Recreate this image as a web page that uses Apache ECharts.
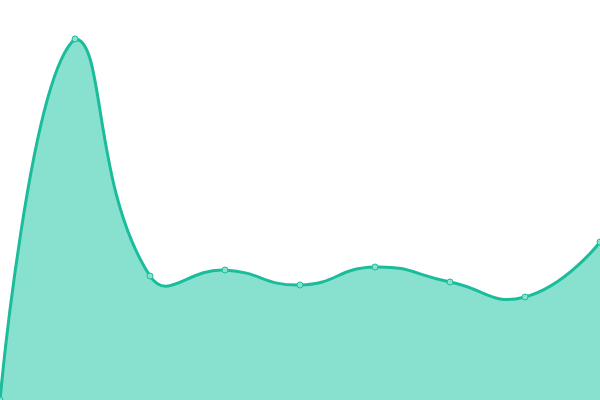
<!DOCTYPE html>
<html>
<head>
<meta charset="utf-8">
<script src="https://cdn.jsdelivr.net/npm/echarts@6/dist/echarts.min.js"></script>
<style>
html, body { margin: 0; padding: 0; background: #fff; }
#main { width: 600px; height: 400px; }
</style>
</head>
<body>
<div id="main"></div>
<script>
var categories = ['1', '2', '3', '4', '5', '6', '7', '8', '9'];
var values = [0, 361, 124, 130, 115, 133, 118, 103, 158];

var lineColor = '#1bbc9b';
var areaColor = '#88e0cf';

function dist(a, b) {
    return Math.sqrt((a[0] - b[0]) * (a[0] - b[0]) + (a[1] - b[1]) * (a[1] - b[1]));
}

// old style smoothing (control points only kept inside the bbox of all points)
function smoothPath(pts, smooth) {
    var min = [Infinity, Infinity], max = [-Infinity, -Infinity];
    pts.forEach(function (p) {
        min[0] = Math.min(min[0], p[0]); min[1] = Math.min(min[1], p[1]);
        max[0] = Math.max(max[0], p[0]); max[1] = Math.max(max[1], p[1]);
    });
    function clamp(c) {
        return [Math.max(min[0], Math.min(max[0], c[0])), Math.max(min[1], Math.min(max[1], c[1]))];
    }
    var d = 'M' + pts[0][0] + ' ' + pts[0][1];
    var cp0 = pts[0].slice();
    for (var i = 1; i < pts.length; i++) {
        var p = pts[i], prev = pts[i - 1], next = pts[i + 1];
        var cp1, ratio = 0.5, v = [0, 0];
        if (!next) {
            cp1 = p.slice();
        } else {
            v = [next[0] - prev[0], next[1] - prev[1]];
            var l0 = dist(p, prev), l1 = dist(p, next);
            ratio = l1 / (l0 + l1);
            cp1 = [p[0] - v[0] * smooth * (1 - ratio), p[1] - v[1] * smooth * (1 - ratio)];
        }
        cp0 = clamp(cp0);
        cp1 = clamp(cp1);
        d += ' C' + cp0[0] + ' ' + cp0[1] + ' ' + cp1[0] + ' ' + cp1[1] + ' ' + p[0] + ' ' + p[1];
        cp0 = [p[0] + v[0] * smooth * ratio, p[1] + v[1] * smooth * ratio];
    }
    return d;
}

var myChart = echarts.init(document.getElementById('main'));
myChart.setOption({
    animation: false,
    grid: {left: 0, right: 0, top: 0, bottom: 0},
    xAxis: {
        type: 'category',
        boundaryGap: false,
        data: categories,
        show: false
    },
    yAxis: {
        type: 'value',
        min: 0,
        max: 400,
        show: false
    },
    series: [
        {
            type: 'custom',
            data: [0],
            z: 1,
            renderItem: function (params, api) {
                var pts = values.map(function (v, i) { return api.coord([i, v]); });
                var base = api.coord([0, 0])[1];
                var line = smoothPath(pts, 0.5);
                var area = line + ' L' + pts[pts.length - 1][0] + ' ' + base + ' L' + pts[0][0] + ' ' + base + ' Z';
                return {
                    type: 'group',
                    children: [
                        {type: 'path', shape: {pathData: area}, style: {fill: areaColor, stroke: null}},
                        {type: 'path', shape: {pathData: line}, style: {fill: null, stroke: lineColor, lineWidth: 3}}
                    ]
                };
            }
        },
        {
            type: 'line',
            data: values,
            z: 2,
            symbol: 'circle',
            symbolSize: 6,
            itemStyle: {color: areaColor, borderColor: lineColor, borderWidth: 1},
            lineStyle: {width: 0, opacity: 0}
        }
    ]
});
</script>
</body>
</html>
